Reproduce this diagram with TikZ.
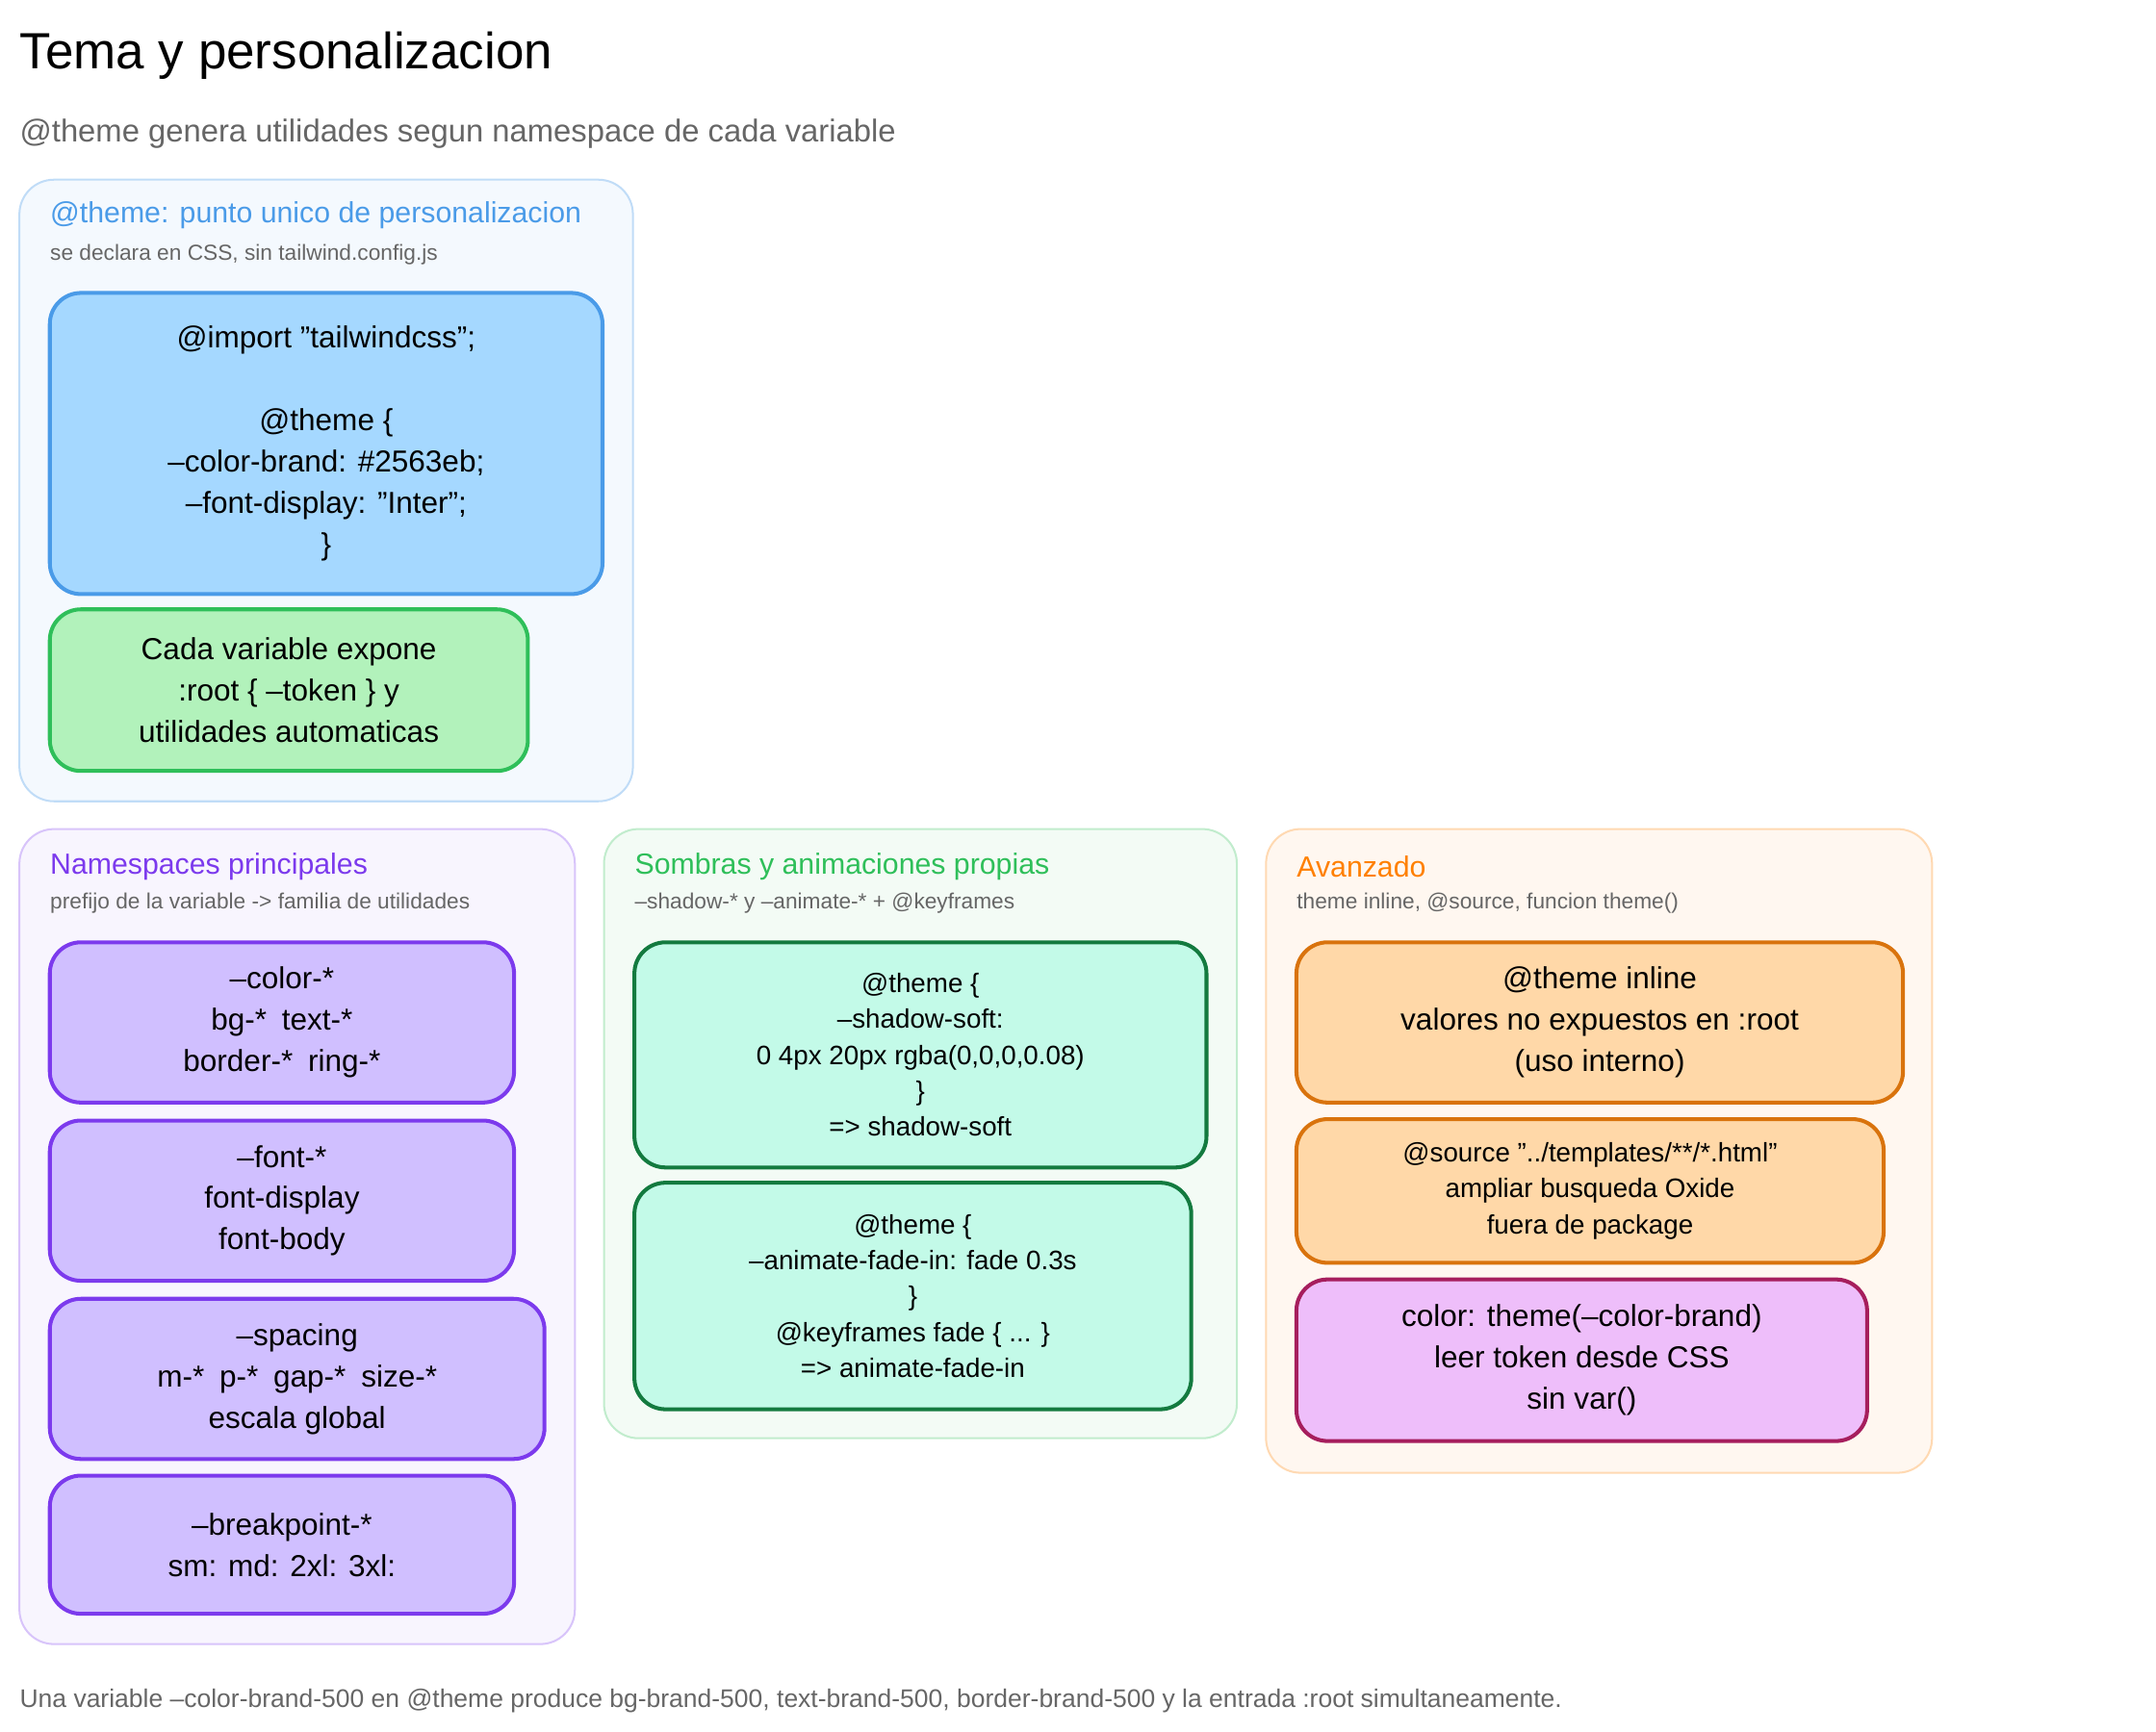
\documentclass[tikz,border=0pt]{standalone}
\usepackage{fontspec}
\setmainfont{Liberation Sans}
\usetikzlibrary{positioning}
\definecolor{bluefill}{HTML}{A5D8FF}
\definecolor{blueline}{HTML}{4A9BE8}
\definecolor{greenfill}{HTML}{B2F2BB}
\definecolor{greenline}{HTML}{2FBF5A}
\definecolor{purpfill}{HTML}{D0BFFF}
\definecolor{purpline}{HTML}{7C3AED}
\definecolor{mintfill}{HTML}{C3FAE8}
\definecolor{mintline}{HTML}{137A3F}
\definecolor{orfill}{HTML}{FFD8A8}
\definecolor{orline}{HTML}{D9730D}
\definecolor{pinkfill}{HTML}{EEBEFA}
\definecolor{pinkline}{HTML}{A61E5D}
\definecolor{greytext}{HTML}{666666}
\tikzset{
	group/.style={draw, rounded corners=0.5cm, line width=0.8pt},
	box/.style={draw, rounded corners=0.45cm, line width=1.6pt, align=center,
		font=\fontsize{12.5}{17}\selectfont},
	smallbox/.style={box, font=\fontsize{11}{14.8}\selectfont},
	gtitle/.style={anchor=west, inner sep=0pt, font=\fontsize{12}{14}\selectfont},
	gsub/.style={anchor=west, inner sep=0pt, text=greytext, font=\fontsize{9}{11}\selectfont},
}
\begin{document}
\begin{tikzpicture}[x=0.02cm, y=-0.02cm]
	\useasboundingbox (0,0) rectangle (1560,1253);
	\node[anchor=west, inner sep=0pt, font=\fontsize{21}{24}\selectfont] (title) at (14,40) {Tema y personalizacion};
	\node[anchor=west, inner sep=0pt, text=greytext, font=\fontsize{13}{15}\selectfont] (subtitle) at (14,97) {@theme genera utilidades segun namespace de cada variable};
	% grupos
	\node[group, draw=blueline!35, fill=blueline!6, minimum width=8.88cm, minimum height=9cm] (gtheme) at (236,355) {};
	\node[group, draw=purpline!30, fill=purpline!5, minimum width=8.04cm, minimum height=11.8cm] (gnames) at (215,895) {};
	\node[group, draw=greenline!30, fill=greenline!6, minimum width=9.16cm, minimum height=8.82cm] (gshadow) at (666,820.5) {};
	\node[group, draw=orange!30, fill=orange!6, minimum width=9.64cm, minimum height=9.32cm] (gadv) at (1157,833) {};
	\node[gtitle, text=blueline] (ttheme) at (36,156) {@theme: punto unico de personalizacion};
	\node[gsub] (stheme) at (36,184) {se declara en CSS, sin tailwind.config.js};
	\node[gtitle, text=purpline] (tnames) at (36,627) {Namespaces principales};
	\node[gsub] (snames) at (36,654) {prefijo de la variable -> familia de utilidades};
	\node[gtitle, text=greenline] (tshadow) at (459,627) {Sombras y animaciones propias};
	\node[gsub] (sshadow) at (459,654) {--shadow-* y --animate-* + @keyframes};
	\node[gtitle, text=orange] (tadv) at (938,627) {Avanzado};
	\node[gsub] (sadv) at (938,654) {theme inline, @source, funcion theme()};
	% cajas
	\node[box, draw=blueline, fill=bluefill, minimum width=8cm, minimum height=4.36cm] (code) at (236,321)
		{@import "tailwindcss";\\[17pt]@theme \{\\--color-brand: \#2563eb;\\--font-display: "Inter";\\\}};
	\node[box, draw=greenline, fill=greenfill, minimum width=6.92cm, minimum height=2.34cm] (expone) at (209,499.5)
		{Cada variable expone\\:root \{ --token \} y\\utilidades automaticas};
	\node[box, draw=purpline, fill=purpfill, minimum width=6.72cm, minimum height=2.32cm] (color) at (204,740)
		{--color-*\\bg-*\enspace text-*\\border-*\enspace ring-*};
	\node[box, draw=purpline, fill=purpfill, minimum width=6.72cm, minimum height=2.32cm] (font) at (204,869)
		{--font-*\\font-display\\font-body};
	\node[box, draw=purpline, fill=purpfill, minimum width=7.16cm, minimum height=2.32cm] (spacing) at (215,998)
		{--spacing\\m-*\enspace p-*\enspace gap-*\enspace size-*\\escala global};
	\node[box, draw=purpline, fill=purpfill, minimum width=6.72cm, minimum height=2cm] (bp) at (204,1118)
		{--breakpoint-*\\sm: md: 2xl: 3xl:};
	\node[smallbox, draw=mintline, fill=mintfill, minimum width=8.28cm, minimum height=3.26cm] (shadow) at (666,763.5)
		{@theme \{\\--shadow-soft:\\0 4px 20px rgba(0,0,0,0.08)\\\}\\=> shadow-soft};
	\node[smallbox, draw=mintline, fill=mintfill, minimum width=8.06cm, minimum height=3.28cm] (anim) at (660.5,938)
		{@theme \{\\--animate-fade-in: fade 0.3s\\\}\\@keyframes fade \{ ... \}\\=> animate-fade-in};
	\node[box, draw=orline, fill=orfill, minimum width=8.78cm, minimum height=2.32cm] (inline) at (1157.5,740)
		{@theme inline\\valores no expuestos en :root\\(uso interno)};
	\node[smallbox, draw=orline, fill=orfill, minimum width=8.5cm, minimum height=2.08cm] (source) at (1150.5,862)
		{@source "../templates/**/*.html"\\ampliar busqueda Oxide\\fuera de package};
	\node[box, draw=pinkline, fill=pinkfill, minimum width=8.26cm, minimum height=2.34cm] (fn) at (1144.5,984.5)
		{color: theme(--color-brand)\\leer token desde CSS\\sin var()};
	\node[anchor=west, inner sep=0pt, text=greytext, font=\fontsize{10.5}{12}\selectfont] (footer) at (14,1231)
		{Una variable --color-brand-500 en @theme produce bg-brand-500, text-brand-500, border-brand-500 y la entrada :root simultaneamente.};
\end{tikzpicture}
\end{document}
